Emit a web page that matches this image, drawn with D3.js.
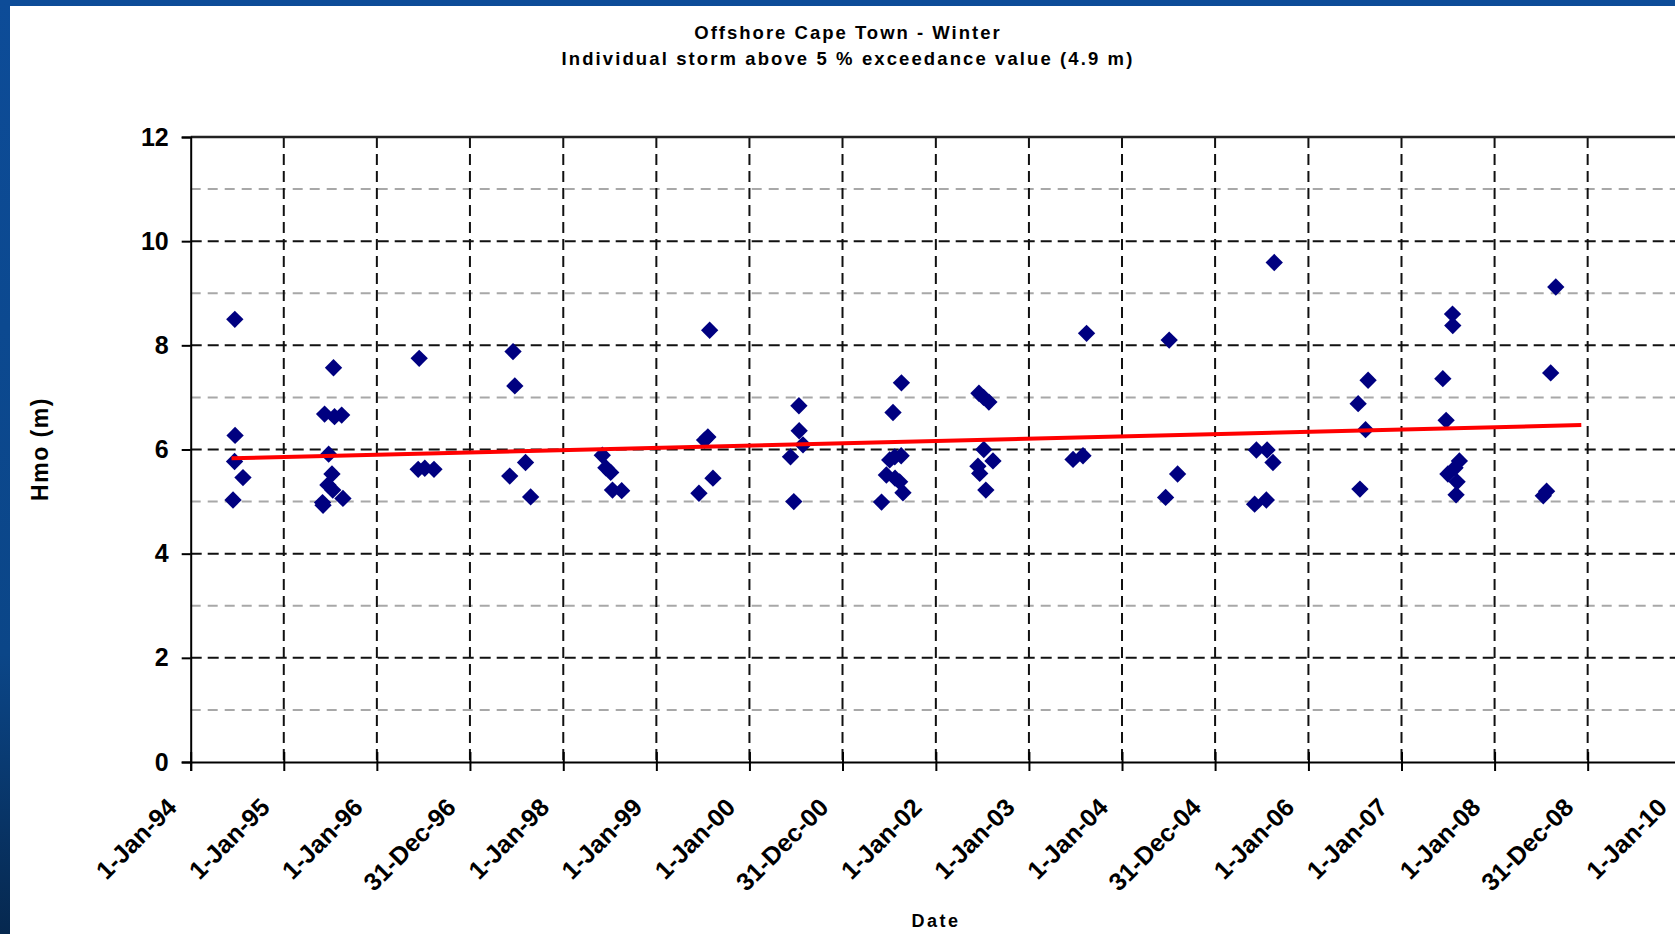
<!DOCTYPE html>
<html>
<head>
<meta charset="utf-8">
<script src="https://cdn.jsdelivr.net/npm/d3@7"></script>
<style>
  html, body { margin: 0; padding: 0; overflow: hidden; }
  svg { display: block; font-family: "Liberation Sans", Arial, sans-serif; }
</style>
</head>
<body>
<svg id="chart"></svg>
<script>
// Storm dates and peak Hmo (m)
var stormDates = [
  "1994-06-23", "1994-06-24", "1994-06-22", "1994-07-25", "1994-06-16",
  "1995-07-15", "1995-06-10", "1995-07-19", "1995-08-16", "1995-06-26", "1995-07-09",
  "1995-06-23", "1995-07-12", "1995-08-21", "1995-06-04", "1995-06-02",
  "1996-06-15", "1996-06-11", "1996-07-07", "1996-08-12",
  "1997-06-18", "1997-06-25", "1997-06-05", "1997-08-06", "1997-08-26",
  "1998-06-03", "1998-06-17", "1998-07-06", "1998-07-13", "1998-08-18",
  "1999-07-29", "1999-07-09", "1999-07-22", "1999-08-11", "1999-06-17",
  "2000-07-13", "2000-07-14", "2000-07-29", "2000-06-10", "2000-06-23",
  "2001-08-19", "2001-07-17", "2001-07-24", "2001-08-18", "2001-07-04",
  "2001-06-21", "2001-07-25", "2001-08-12", "2001-08-25", "2001-06-02",
  "2002-06-19", "2002-07-07", "2002-07-28", "2002-07-08", "2002-08-13",
  "2002-06-15", "2002-06-22", "2002-07-16",
  "2003-06-23", "2003-08-01", "2003-08-15",
  "2004-07-04", "2004-08-06", "2004-06-20",
  "2005-08-20", "2005-06-11", "2005-07-23", "2005-08-15", "2005-06-04", "2005-07-20",
  "2006-08-23", "2006-07-15", "2006-08-13", "2006-07-22",
  "2007-07-20", "2007-07-21", "2007-06-12", "2007-06-25", "2007-08-16",
  "2007-07-30", "2007-07-02", "2007-08-07", "2007-08-03",
  "2008-08-28", "2008-08-08", "2008-07-23", "2008-07-10"
];
var stormHmo = [
  8.50, 6.27, 5.77, 5.46, 5.03,
  7.57, 6.68, 6.63, 6.66, 5.91, 5.53,
  5.32, 5.22, 5.06, 4.93, 4.98,
  7.75, 5.62, 5.64, 5.62,
  7.88, 7.22, 5.49, 5.75, 5.09,
  5.89, 5.65, 5.56, 5.22, 5.21,
  8.29, 6.18, 6.24, 5.45, 5.16,
  6.84, 6.36, 6.09, 5.86, 5.00,
  7.28, 6.71, 5.86, 5.88, 5.80,
  5.51, 5.45, 5.38, 5.17, 4.99,
  7.08, 7.00, 6.91, 6.00, 5.78,
  5.68, 5.54, 5.22,
  5.81, 5.88, 8.23,
  8.10, 5.53, 5.08,
  9.59, 5.99, 5.99, 5.75, 4.95, 5.03,
  7.33, 6.88, 6.38, 5.24,
  8.60, 8.38, 7.36, 6.56, 5.78,
  5.65, 5.53, 5.38, 5.13,
  9.12, 7.47, 5.20, 5.11
];

// Linear trend line end points
var trendDates = ["1994-06-10", "2008-12-06"];
var trendHmo = [5.83, 6.47];

// Axis tick labels
var xTickLabels = ["1-Jan-94", "1-Jan-95", "1-Jan-96", "31-Dec-96", "1-Jan-98", "1-Jan-99",
  "1-Jan-00", "31-Dec-00", "1-Jan-02", "1-Jan-03", "1-Jan-04", "31-Dec-04",
  "1-Jan-06", "1-Jan-07", "1-Jan-08", "31-Dec-08", "1-Jan-10"];
var yMajorTicks = [0, 2, 4, 6, 8, 10, 12];
var yMinorTicks = [1, 3, 5, 7, 9, 11];

var width = 1675,
    height = 934;

var parseIso = d3.timeParse("%Y-%m-%d");
var parseTick = d3.timeParse("%d-%b-%y");

var points = stormDates.map(function(d, i) {
  return { date: parseIso(d), value: stormHmo[i] };
});
var trend = trendDates.map(function(d, i) {
  return { date: parseIso(d), value: trendHmo[i] };
});
var tickDates = xTickLabels.map(function(s) { return parseTick(s); });

var svg = d3.select("#chart")
  .attr("width", width)
  .attr("height", height);

// Blue slide background with white chart panel
var defs = svg.append("defs");
var bg = defs.append("linearGradient")
  .attr("id", "bg")
  .attr("x1", 0).attr("y1", 0).attr("x2", 0).attr("y2", 1);
bg.append("stop").attr("offset", "0%").attr("stop-color", "#0d4c98");
bg.append("stop").attr("offset", "70%").attr("stop-color", "#0b4688");
bg.append("stop").attr("offset", "100%").attr("stop-color", "#06284f");

svg.append("rect")
  .attr("width", width)
  .attr("height", height)
  .attr("fill", "url(#bg)");

svg.append("rect")
  .attr("x", 10)
  .attr("y", 6)
  .attr("width", width - 10)
  .attr("height", height - 6)
  .attr("fill", "#fff");

// Scales
var x = d3.scaleTime()
  .domain([parseTick("1-Jan-94"), parseTick("1-Jan-10")])
  .range([190.7, 1681]);

var y = d3.scaleLinear()
  .domain([0, 12])
  .range([762, 137]);

var plotLeft = x.range()[0],
    plotRight = x.range()[1];

// Gridlines
var grid = svg.append("g").attr("class", "grid");

grid.selectAll(".minor")
  .data(yMinorTicks)
  .enter().append("line")
  .attr("x1", plotLeft).attr("x2", plotRight)
  .attr("y1", function(d) { return y(d); })
  .attr("y2", function(d) { return y(d); })
  .attr("stroke", "#a8a8a8")
  .attr("stroke-width", 2)
  .attr("stroke-dasharray", "10,7");

grid.selectAll(".major")
  .data(yMajorTicks.filter(function(d) { return d > 0 && d < 12; }))
  .enter().append("line")
  .attr("x1", plotLeft).attr("x2", plotRight)
  .attr("y1", function(d) { return y(d); })
  .attr("y2", function(d) { return y(d); })
  .attr("stroke", "#111")
  .attr("stroke-width", 2)
  .attr("stroke-dasharray", "11,6");

grid.selectAll(".vert")
  .data(tickDates.slice(1))
  .enter().append("line")
  .attr("x1", function(d) { return x(d); })
  .attr("x2", function(d) { return x(d); })
  .attr("y1", y(12)).attr("y2", y(0))
  .attr("stroke", "#111")
  .attr("stroke-width", 2)
  .attr("stroke-dasharray", "11,6");

// Plot area top border
svg.append("line")
  .attr("x1", plotLeft).attr("x2", plotRight)
  .attr("y1", y(12)).attr("y2", y(12))
  .attr("stroke", "#222")
  .attr("stroke-width", 2.5);

// Y axis
var yAxis = svg.append("g")
  .attr("transform", "translate(" + plotLeft + ",0)")
  .call(d3.axisLeft(y).tickValues(yMajorTicks).tickSize(9).tickPadding(13).tickFormat(d3.format("d")));

yAxis.select(".domain")
  .attr("stroke", "#000")
  .attr("stroke-width", 2);
yAxis.selectAll(".tick line")
  .attr("stroke", "#000")
  .attr("stroke-width", 2);
yAxis.selectAll(".tick text")
  .attr("fill", "#000")
  .style("font-size", "25px")
  .style("font-weight", "bold");

// X axis
var xAxis = svg.append("g")
  .attr("transform", "translate(0," + y(0) + ")")
  .call(d3.axisBottom(x).tickValues(tickDates).tickSize(9).tickFormat(function(d, i) { return xTickLabels[i]; }));

xAxis.select(".domain")
  .attr("stroke", "#000")
  .attr("stroke-width", 2);
xAxis.selectAll(".tick line")
  .attr("y1", -10)
  .attr("y2", 9)
  .attr("stroke", "#000")
  .attr("stroke-width", 2);
xAxis.selectAll(".tick text")
  .attr("fill", "#000")
  .attr("y", null)
  .attr("dy", null)
  .attr("text-anchor", "end")
  .attr("transform", "translate(-13,47) rotate(-45)")
  .style("font-size", "25px")
  .style("font-weight", "bold");

// Storm markers (diamonds)
var diamond = d3.symbol().type(d3.symbolSquare).size(150);

svg.append("g")
  .selectAll("path")
  .data(points)
  .enter().append("path")
  .attr("d", diamond)
  .attr("transform", function(d) {
    return "translate(" + x(d.date) + "," + y(d.value) + ") rotate(45)";
  })
  .attr("fill", "#000080");

// Trend line
var line = d3.line()
  .x(function(d) { return x(d.date); })
  .y(function(d) { return y(d.value); });

svg.append("path")
  .datum(trend)
  .attr("d", line)
  .attr("fill", "none")
  .attr("stroke", "#ff0000")
  .attr("stroke-width", 4);

// Titles
svg.append("text")
  .attr("x", 848)
  .attr("y", 39)
  .attr("text-anchor", "middle")
  .style("font-size", "18.5px")
  .style("font-weight", "bold")
  .style("letter-spacing", "2px")
  .text("Offshore Cape Town - Winter");

svg.append("text")
  .attr("x", 848)
  .attr("y", 65)
  .attr("text-anchor", "middle")
  .style("font-size", "18.5px")
  .style("font-weight", "bold")
  .style("letter-spacing", "2.1px")
  .text("Individual storm above 5 % exceedance value (4.9 m)");

svg.append("text")
  .attr("transform", "translate(48,449) rotate(-90)")
  .attr("text-anchor", "middle")
  .style("font-size", "23px")
  .style("font-weight", "bold")
  .style("letter-spacing", "1.5px")
  .text("Hmo (m)");

svg.append("text")
  .attr("x", 936)
  .attr("y", 927)
  .attr("text-anchor", "middle")
  .style("font-size", "18px")
  .style("font-weight", "bold")
  .style("letter-spacing", "2.5px")
  .text("Date");
</script>
</body>
</html>
